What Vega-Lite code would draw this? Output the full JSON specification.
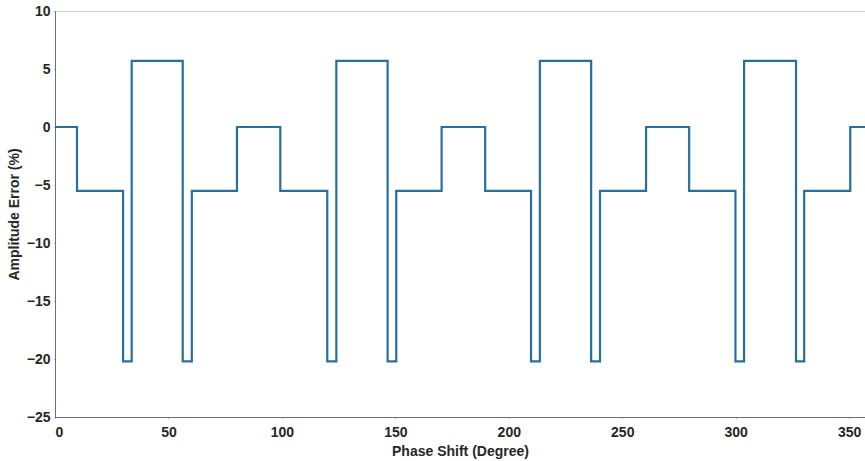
{
  "$schema": "https://vega.github.io/schema/vega-lite/v6.json",
  "width": 810,
  "height": 406,
  "autosize": {"type": "none"},
  "padding": {"left": 55, "top": 11, "right": 0, "bottom": 44},
  "background": "white",
  "config": {
    "view": {"stroke": "#d0d0d0", "strokeWidth": 1},
    "font": "Liberation Sans"
  },
  "data": {
    "values": [
      {"x": 0, "y": 0},
      {"x": 9.7, "y": -5.5},
      {"x": 30, "y": -20.2},
      {"x": 33.8, "y": 5.7},
      {"x": 56.3, "y": -20.2},
      {"x": 60.3, "y": -5.5},
      {"x": 80.2, "y": 0},
      {"x": 99.3, "y": -5.5},
      {"x": 120, "y": -20.2},
      {"x": 124, "y": 5.7},
      {"x": 146.6, "y": -20.2},
      {"x": 150.4, "y": -5.5},
      {"x": 170.4, "y": 0},
      {"x": 189.6, "y": -5.5},
      {"x": 209.8, "y": -20.2},
      {"x": 213.7, "y": 5.7},
      {"x": 236.3, "y": -20.2},
      {"x": 240.2, "y": -5.5},
      {"x": 260.5, "y": 0},
      {"x": 279.5, "y": -5.5},
      {"x": 299.9, "y": -20.2},
      {"x": 303.7, "y": 5.7},
      {"x": 326.6, "y": -20.2},
      {"x": 330.2, "y": -5.5},
      {"x": 350.5, "y": 0},
      {"x": 357, "y": 0}
    ]
  },
  "mark": {"type": "line", "interpolate": "step-after", "color": "#27709d", "strokeWidth": 2.2, "clip": true},
  "encoding": {
    "x": {
      "field": "x",
      "type": "quantitative",
      "scale": {"domain": [0, 357], "nice": false, "zero": false},
      "axis": {
        "title": "Phase Shift (Degree)",
        "values": [0, 50, 100, 150, 200, 250, 300, 350],
        "grid": false,
        "domainColor": "#707070",
        "tickColor": "#707070",
        "tickSize": 1,
        "labelPadding": 7,
        "labelFont": "Liberation Sans",
        "labelFontWeight": "bold",
        "labelFontSize": 14,
        "labelColor": "#262626",
        "titleFont": "Liberation Sans",
        "titleFontWeight": "bold",
        "titleFontSize": 14,
        "titleColor": "#262626",
        "titlePadding": 5,
        "encode": {"ticks": {"update": {"y2": {"value": -6}}}}
      }
    },
    "y": {
      "field": "y",
      "type": "quantitative",
      "scale": {"domain": [-25, 10], "nice": false, "zero": false},
      "axis": {
        "title": "Amplitude Error (%)",
        "values": [-25, -20, -15, -10, -5, 0, 5, 10],
        "grid": false,
        "domainColor": "#707070",
        "tickColor": "#707070",
        "tickSize": 1,
        "labelPadding": 4,
        "labelFont": "Liberation Sans",
        "labelFontWeight": "bold",
        "labelFontSize": 14,
        "labelColor": "#262626",
        "titleFont": "Liberation Sans",
        "titleFontWeight": "bold",
        "titleFontSize": 14,
        "titleColor": "#262626",
        "titlePadding": 5,
        "encode": {"ticks": {"update": {"x2": {"value": 6}}}}
      }
    }
  }
}
